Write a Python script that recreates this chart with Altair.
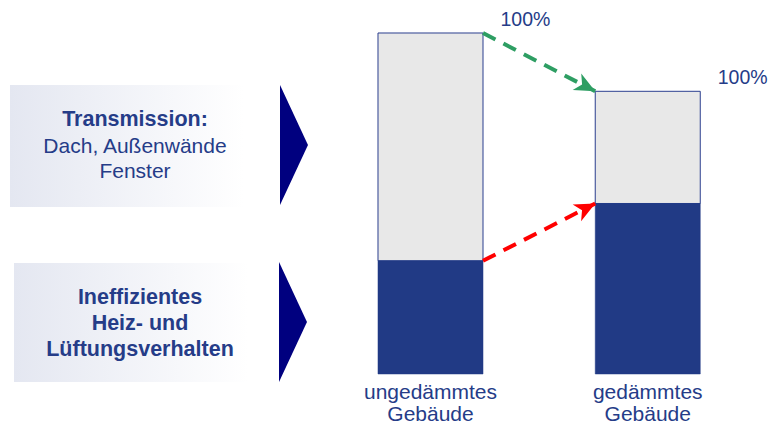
import math
import altair as alt
import pandas as pd

# ---------------- data ----------------
categories = ["ungedämmtes\nGebäude", "gedämmtes\nGebäude"]
heiz_lueftung = [33.2, 50.0]      # dark segment, % of uninsulated total
transmission = [66.8, 32.9]       # light segment
total_labels = ["100%", "100%"]

factor_titles = ["Transmission:", "Ineffizientes\nHeiz- und\nLüftungsverhalten"]
factor_details = ["Dach, Außenwände\nFenster", ""]

# ---------------- layout / style ----------------
W, H = 760, 418
X_DOM = [-0.9448, 2.5535]
Y_DOM = [-15.25, 107.33]
HALF = 0.2417
FONT = "Liberation Sans"
TXT = "#253C88"
DARK = "#213A85"
LIGHT = "#E8E8E8"
EDGE = "#2B3F8F"
NAVY = "#00007F"

xs = alt.Scale(domain=X_DOM, nice=False, zero=False)
ys = alt.Scale(domain=Y_DOM, nice=False, zero=False)

rows = []
for i, c in enumerate(categories):
    pos = i + 1
    rows.append(dict(cat=c, pos=pos, seg="dark", y0=0.0, y1=heiz_lueftung[i]))
    rows.append(dict(cat=c, pos=pos, seg="light", y0=heiz_lueftung[i],
                     y1=heiz_lueftung[i] + transmission[i]))
bars = pd.DataFrame(rows)
bars["x0"] = bars["pos"] - HALF
bars["x1"] = bars["pos"] + HALF

tot = pd.DataFrame({
    "pos": [i + 1 for i in range(len(categories))],
    "total": [a + b for a, b in zip(heiz_lueftung, transmission)],
    "label": total_labels,
    "cat": categories,
    "base": [0.0] * len(categories),
})
tot["right"] = tot["pos"] + HALF

px_x = W / (X_DOM[1] - X_DOM[0])
px_y = H / (Y_DOM[1] - Y_DOM[0])
arr = []
for name, ya, yb, col in [
    ("total", tot["total"][0], tot["total"][1], "#2E9E63"),
    ("dark", heiz_lueftung[0], heiz_lueftung[1], "#FF0000"),
]:
    xa, xb = 1 + HALF, 2 - HALF
    ang = math.degrees(math.atan2(-(yb - ya) * px_y, (xb - xa) * px_x)) % 360
    arr.append(dict(name=name, xa=xa, ya=ya, xb=xb, yb=yb, col=col, ang=ang))
arrows = pd.DataFrame(arr)

base = alt.Chart(bars)

dark_l = base.transform_filter("datum.seg == 'dark'").mark_rect(
    fill=DARK, stroke=DARK, strokeWidth=0.5
).encode(
    x=alt.X("x0:Q", scale=xs, axis=None), x2="x1:Q",
    y=alt.Y("y0:Q", scale=ys, axis=None), y2="y1:Q",
)
light_l = base.transform_filter("datum.seg == 'light'").mark_rect(
    fill=LIGHT, stroke=EDGE, strokeWidth=1
).encode(
    x=alt.X("x0:Q", scale=xs, axis=None), x2="x1:Q",
    y=alt.Y("y0:Q", scale=ys, axis=None), y2="y1:Q",
)

rule_l = alt.Chart(arrows).mark_rule(strokeDash=[14, 9], strokeWidth=4).encode(
    x=alt.X("xa:Q", scale=xs, axis=None), x2="xb:Q",
    y=alt.Y("ya:Q", scale=ys, axis=None), y2="yb:Q",
    color=alt.Color("col:N", scale=None),
)
head_l = alt.Chart(arrows).mark_point(
    shape="M 0 0 L -1 -0.45 L -0.72 0 L -1 0.45 Z", filled=True, size=1700, opacity=1
).encode(
    x=alt.X("xb:Q", scale=xs, axis=None),
    y=alt.Y("yb:Q", scale=ys, axis=None),
    color=alt.Color("col:N", scale=None),
    angle=alt.Angle("ang:Q", scale=None),
)

pct_l = alt.Chart(tot).mark_text(
    align="left", baseline="middle", dx=17.5, dy=-13, font=FONT, fontSize=19.5, color=TXT
).encode(
    x=alt.X("right:Q", scale=xs, axis=None),
    y=alt.Y("total:Q", scale=ys, axis=None),
    text="label:N",
)
cat_l = alt.Chart(tot).mark_text(
    align="center", baseline="middle", dy=19.5, font=FONT, fontSize=21,
    lineBreak="\n", lineHeight=21.5, color=TXT
).encode(
    x=alt.X("pos:Q", scale=xs, axis=None),
    y=alt.Y("base:Q", scale=ys, axis=None),
    text="cat:N",
)

# left-hand factor boxes (pixel layout, relative to the plot origin)
boxes = [
    dict(x=2, x2=236, y=77, y2=199, tx=127, ty_title=112, ty_det=139, tri_x=286, tri_y=137),
    dict(x=6, x2=240, y=255, y2=374, tx=132, ty_title=290, ty_det=0, tri_x=285, tri_y=314),
]
grad = alt.Gradient(
    gradient="linear",
    stops=[alt.GradientStop(color="#E4E7F1", offset=0),
           alt.GradientStop(color="#FFFFFF", offset=1)],
    x1=0, x2=1, y1=0, y2=0,
)
deco = []
for i, b in enumerate(boxes):
    one = pd.DataFrame({"title": [factor_titles[i]], "detail": [factor_details[i]]})
    c = alt.Chart(one)
    deco.append(c.mark_rect(color=grad).encode(
        x=alt.value(b["x"]), x2=alt.value(b["x2"]),
        y=alt.value(b["y"]), y2=alt.value(b["y2"])))
    deco.append(c.mark_point(
        shape="M -0.233 -1 L 0.233 0 L -0.233 1 Z", filled=True, size=14400,
        color=NAVY, opacity=1).encode(x=alt.value(b["tri_x"]), y=alt.value(b["tri_y"])))
    deco.append(c.mark_text(
        align="center", baseline="middle", font=FONT, fontSize=21.5, fontWeight="bold",
        lineBreak="\n", lineHeight=26, color=TXT).encode(
        x=alt.value(b["tx"]), y=alt.value(b["ty_title"]), text="title:N"))
    if factor_details[i]:
        deco.append(c.mark_text(
            align="center", baseline="middle", font=FONT, fontSize=21,
            lineBreak="\n", lineHeight=25, color=TXT).encode(
            x=alt.value(b["tx"]), y=alt.value(b["ty_det"]), text="detail:N"))

chart = alt.layer(
    *deco, light_l, dark_l, rule_l, head_l, pct_l, cat_l
).properties(
    width=W, height=H, padding=0, autosize=alt.AutoSizeParams(type="none"),
    background="white",
).configure_view(stroke=None)

chart.save("out.html", embed_options={"renderer": "svg", "actions": False})
